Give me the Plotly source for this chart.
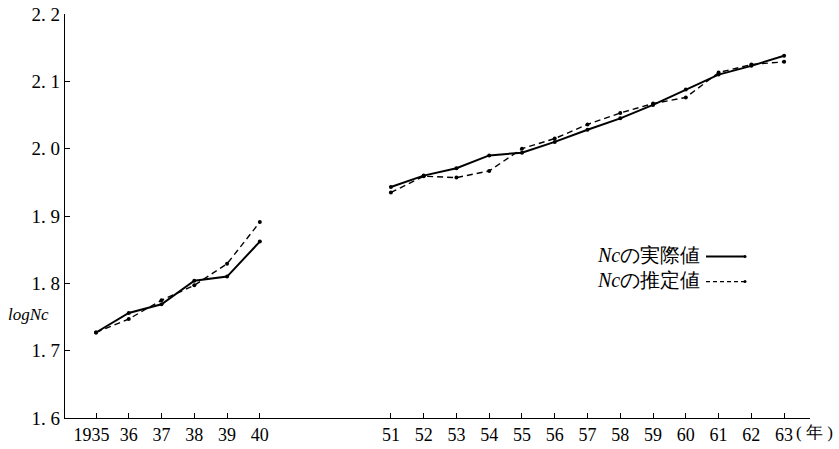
import plotly.graph_objects as go

# ---- data ----
years_early = [1935, 1936, 1937, 1938, 1939, 1940]
years_late = [1951, 1952, 1953, 1954, 1955, 1956, 1957, 1958, 1959, 1960, 1961, 1962, 1963]

actual_early = [1.727, 1.756, 1.769, 1.804, 1.810, 1.862]
actual_late = [1.943, 1.960, 1.971, 1.990, 1.994, 2.010, 2.028, 2.045, 2.065, 2.088, 2.110, 2.123, 2.138]

est_early = [1.727, 1.747, 1.775, 1.797, 1.829, 1.891]
est_late = [1.935, 1.959, 1.957, 1.967, 2.000, 2.015, 2.036, 2.053, 2.067, 2.076, 2.113, 2.125, 2.129]

tick_labels_early = ["1935\u00a0\u00a0", "36", "37", "38", "39", "40"]
tick_labels_late = ["51", "52", "53", "54", "55", "56", "57", "58", "59", "60", "61", "62", "63"]

y_ticks = [1.6, 1.7, 1.8, 1.9, 2.0, 2.1, 2.2]
y_tick_labels = ["1. 6", "1. 7", "1. 8", "1. 9", "2. 0", "2. 1", "2. 2"]

legend_actual = "<i>Nc</i>の実際値"
legend_est = "<i>Nc</i>の推定値"
y_title = "<i>logNc</i>"
x_unit = "( 年 )"


# broken axis: the 1941-1950 gap is compressed to 4 units
def pos(year):
    return year - 1935 if year <= 1940 else year - 1942


x_early = [pos(y) for y in years_early]
x_late = [pos(y) for y in years_late]

x_all = x_early + [None] + x_late
act_all = actual_early + [None] + actual_late
est_all = est_early + [None] + est_late

serif = "Liberation Serif"

fig = go.Figure()
fig.add_trace(go.Scatter(
    x=x_all, y=act_all, mode="lines+markers", connectgaps=False,
    line=dict(color="black", width=2),
    marker=dict(color="black", size=4),
    showlegend=False,
))
fig.add_trace(go.Scatter(
    x=x_all, y=est_all, mode="lines+markers", connectgaps=False,
    line=dict(color="black", width=1.4, dash="6px,4px"),
    marker=dict(color="black", size=4),
    showlegend=False,
))

fig.update_layout(
    width=839, height=449,
    margin=dict(l=65, r=29, t=14, b=31),
    paper_bgcolor="white", plot_bgcolor="white",
    font=dict(family=serif, size=18, color="black"),
    xaxis=dict(
        range=[-0.946, 21.79],
        tickmode="array",
        tickvals=x_early + x_late,
        ticktext=tick_labels_early + tick_labels_late,
        tickangle=0, automargin=False,
        ticks="inside", ticklen=5, tickcolor="black", tickwidth=1,
        showline=True, linecolor="black", linewidth=1.2,
        showgrid=False, zeroline=False,
        tickfont=dict(family=serif, size=18),
    ),
    yaxis=dict(
        range=[1.6, 2.2],
        tickmode="array",
        tickvals=y_ticks,
        ticktext=y_tick_labels,
        automargin=False,
        ticks="inside", ticklen=5, tickcolor="black", tickwidth=1,
        showline=True, linecolor="black", linewidth=1.2,
        showgrid=False, zeroline=False,
        tickfont=dict(family=serif, size=19),
    ),
)

# axis labels
fig.add_annotation(
    text=y_title, xref="paper", yref="y", x=-0.079, y=1.753,
    xanchor="left", yanchor="middle", showarrow=False,
    font=dict(family=serif, size=17),
)
fig.add_annotation(
    text=x_unit, xref="x", yref="paper", x=21.3, y=0,
    xanchor="left", yanchor="top", yshift=-3, showarrow=False,
    font=dict(family=serif, size=17),
)

# legend (text followed by line sample)
leg_items = [(legend_actual, 255, "solid", 2), (legend_est, 280, "dash", 1.3)]
W, H = 745, 404
L, T = 65, 14
for text, ypx, dash, w in leg_items:
    yp = 1 - (ypx - T) / H
    fig.add_annotation(
        text=text, xref="paper", yref="paper",
        x=(702 - L) / W, y=yp, xanchor="right", yanchor="middle",
        showarrow=False, font=dict(family=serif, size=20),
    )
    fig.add_shape(
        type="line", xref="paper", yref="paper",
        x0=(706 - L) / W, x1=(745 - L) / W, y0=yp - 0.004, y1=yp - 0.004,
        line=dict(color="black", width=w, dash="4px,3px" if dash == "dash" else "solid"),
    )
    fig.add_shape(
        type="circle", xref="paper", yref="paper",
        x0=(743.5 - L) / W, x1=(746.5 - L) / W,
        y0=yp - 0.004 - 1.5 / H, y1=yp - 0.004 + 1.5 / H,
        fillcolor="black", line=dict(color="black", width=0),
    )

fig.write_html("out.html")
